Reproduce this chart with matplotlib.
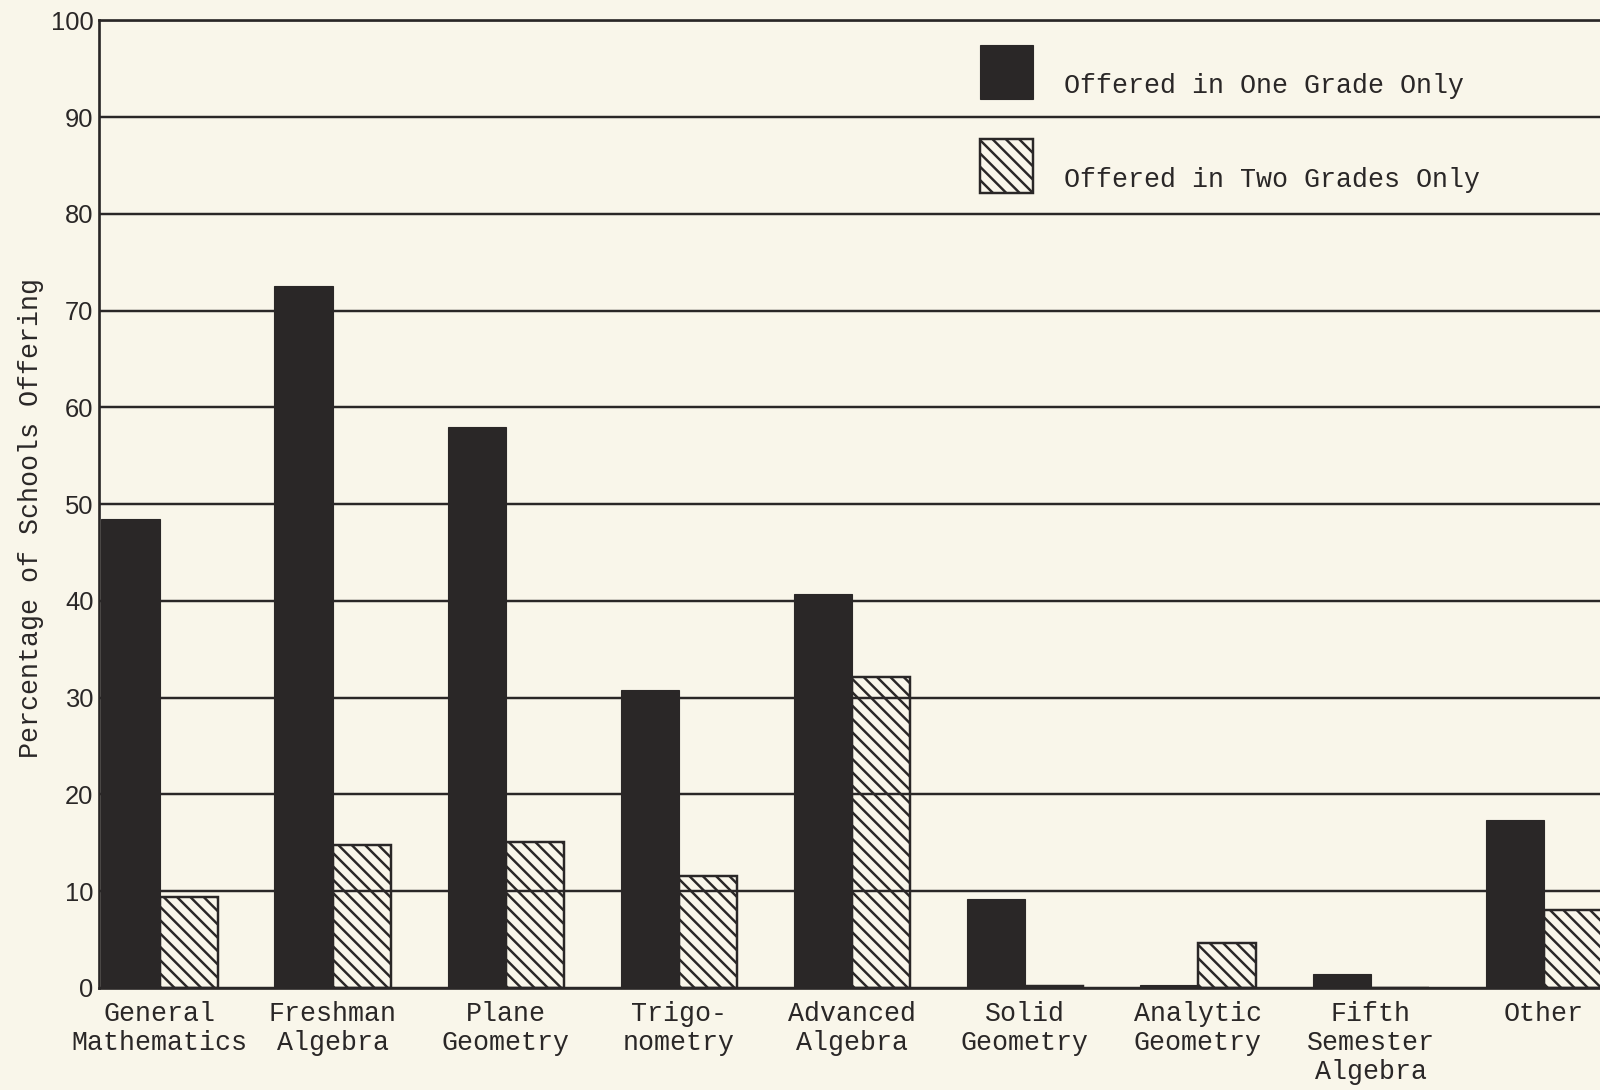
import numpy as np
import matplotlib
matplotlib.use("Agg")
import matplotlib.pyplot as plt

# courses along the bottom
courses = ["General\nMathematics", "Freshman\nAlgebra", "Plane\nGeometry",
           "Trigo-\nnometry", "Advanced\nAlgebra", "Solid\nGeometry",
           "Analytic\nGeometry", "Fifth\nSemester\nAlgebra", "Other"]
# percentage of schools offering
one_grade = [48.5, 72.6, 58.0, 30.8, 40.7, 9.2, 0.3, 1.4, 17.4]
two_grades = [9.4, 14.8, 15.1, 11.6, 32.1, 0.2, 4.6, 0.0, 8.1]
yticks = [0, 10, 20, 30, 40, 50, 60, 70, 80, 90, 100]

paper = "#f9f6ea"
ink = "#2a2727"
mono = ["Liberation Mono", "DejaVu Sans Mono"]
sans = ["Liberation Sans", "DejaVu Sans"]

plt.rcParams["hatch.linewidth"] = 2.2
plt.rcParams["hatch.color"] = ink

fig = plt.figure(figsize=(20, 13.625), dpi=80, facecolor=paper)
ax = fig.add_axes([0.0619, 0.0936, 1 - 0.0619, 0.9813 - 0.0936])
ax.set_facecolor(paper)

x = np.arange(len(courses))
w = 0.336
ax.bar(x - w / 2, one_grade, w, color=ink, edgecolor=ink, linewidth=1, zorder=3,
       label="Offered in One Grade Only")
ax.bar(x + w / 2, two_grades, w, facecolor="none", edgecolor=ink, hatch="\\\\",
       linewidth=2.2, zorder=3, label="Offered in Two Grades Only")

ax.set_xlim(-0.35, 8.325)
ax.set_ylim(0, 100)
ax.set_yticks(yticks)
ax.set_yticklabels([str(v) for v in yticks], family=sans, fontsize=23, color=ink)
ax.set_xticks(x)
ax.set_xticklabels(courses, family=mono, fontsize=24, color=ink, linespacing=1.15)
ax.tick_params(length=0)
ax.tick_params(axis="y", pad=5)
ax.tick_params(axis="x", pad=12)

ax.grid(axis="y", color=ink, linewidth=2.2, zorder=1)
ax.spines["right"].set_visible(False)
for s in ["left", "top", "bottom"]:
    ax.spines[s].set_color(ink)
    ax.spines[s].set_linewidth(2.4)

fig.text(31 / 1600, 0.525, "Percentage of Schools Offering", rotation=90,
         ha="center", va="center", family=mono, fontsize=24, color=ink)

leg = ax.legend(loc="upper left", bbox_to_anchor=(980 / 1600, 1 - 58 / 1090),
                bbox_transform=fig.transFigure, frameon=False,
                prop={"family": mono, "size": 24},
                handlelength=2.0, handleheight=2.73, labelspacing=1.5, handletextpad=1.15,
                borderpad=0, borderaxespad=0, labelcolor=ink)
# text sits a bit lower than the middle of the swatch
for h in leg.legend_handles:
    h.set_y(h.get_y() + 11.5)

fig.savefig("out.png", dpi=80, facecolor=paper)
